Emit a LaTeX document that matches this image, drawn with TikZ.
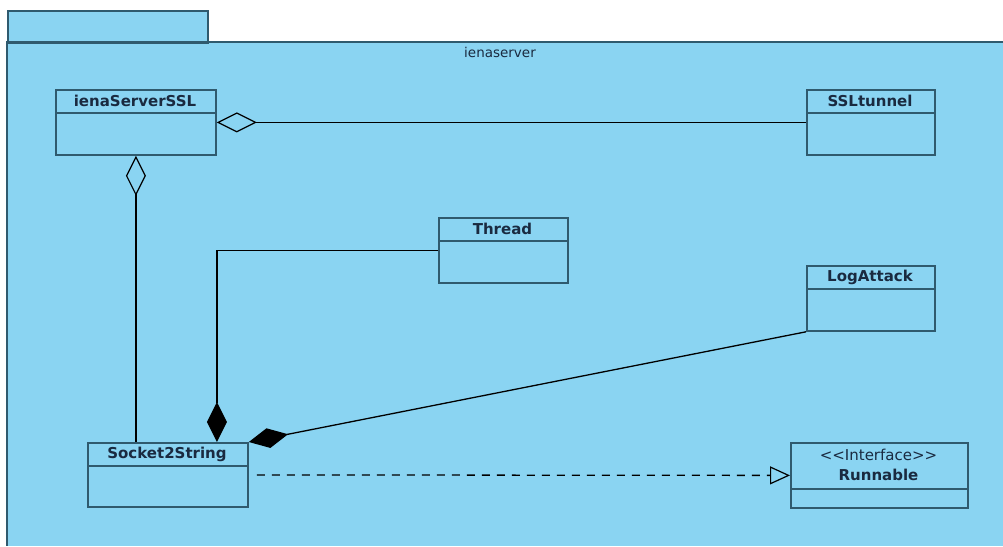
\documentclass[tikz,border=0pt]{standalone}
\usepackage{fontspec}
\setmainfont{DejaVu Sans}
\usetikzlibrary{arrows.meta}
\definecolor{pkgfill}{HTML}{8AD4F2}
\definecolor{boxline}{HTML}{2F5A6E}
\definecolor{txt}{HTML}{1A2A40}
\tikzset{
  clsbox/.style={draw=boxline, line width=1.8pt, fill=pkgfill, rectangle, inner sep=0pt, anchor=north west},
  clstitle/.style={text=txt, font=\bfseries\fontsize{15}{17}\selectfont, inner sep=0pt},
  conn/.style={draw=black, line width=1.3pt},
  agg/.style={conn, {Diamond[open, length=40pt, width=20pt, line width=1.2pt]}-},
  comp/.style={conn, -{Diamond[length=40pt, width=20pt, fill=black]}},
  realize/.style={conn, dashed, dash pattern=on 8pt off 7pt, -{Triangle[open, length=20pt, width=18pt, line width=1.2pt]}}
}
\newcommand{\umlcls}[8]{%
  % #1 name, #2 x1, #3 y1, #4 x2, #5 y2, #6 ydiv, #7 text, #8 text y
  \node[clsbox, minimum width=#4pt-#2pt, minimum height=#5pt-#3pt] (#1) at (#2,#3) {};
  \draw[boxline, line width=1.8pt] (#2,#6) -- (#4,#6);
  \node[clstitle] (#1-t) at ({(#2+#4)/2},#8) {#7};
}
\begin{document}
\begin{tikzpicture}[x=1pt,y=-1pt]
\useasboundingbox (0,0) rectangle (1003,546);
% package
\fill[pkgfill] (7,42) rectangle (1003,546);
\draw[boxline, line width=1.5pt] (1003,42) -- (7,42) -- (7,546);
\node[draw=boxline, line width=1.5pt, fill=pkgfill, minimum width=200pt, minimum height=32pt, anchor=north west, inner sep=0pt] (tab) at (7,10) {};
\draw[boxline, line width=2.5pt] (7,42) -- (207,42);
\node[text=txt, font=\fontsize{13.5}{15}\selectfont, inner sep=0pt] (pkgname) at (500,52) {ienaserver};
% classes
\umlcls{ssl}{55}{89}{215}{154}{113}{ienaServerSSL}{101}
\umlcls{tun}{806}{89}{934}{154}{113}{SSLtunnel}{101}
\umlcls{thr}{438}{217}{567}{282}{241}{Thread}{229}
\umlcls{log}{806}{265}{934}{330}{289}{LogAttack}{277}
\umlcls{s2s}{87}{442}{247}{506}{466}{Socket2String}{454}
\node[clsbox, minimum width=177pt, minimum height=65pt] (run) at (790,442) {};
\draw[boxline, line width=1.8pt] (790,489) -- (967,489);
\node[text=txt, font=\fontsize{15}{17}\selectfont, inner sep=0pt] (run-s) at (878.5,455) {<\kern0pt<Interface>\kern0pt>};
\node[clstitle] (run-t) at (878.5,475) {Runnable};
% connectors
\draw[agg] (ssl.south) -- (ssl.south |- s2s.north);
\draw[agg] (ssl.east) -- (tun.west);
\draw[comp] (thr.west) -| ([xshift=49pt]s2s.north);
\draw[comp] (log.south west) -- (s2s.north east);
\draw[realize] ([xshift=8pt]s2s.east) -- (run.west);
\end{tikzpicture}
\end{document}
